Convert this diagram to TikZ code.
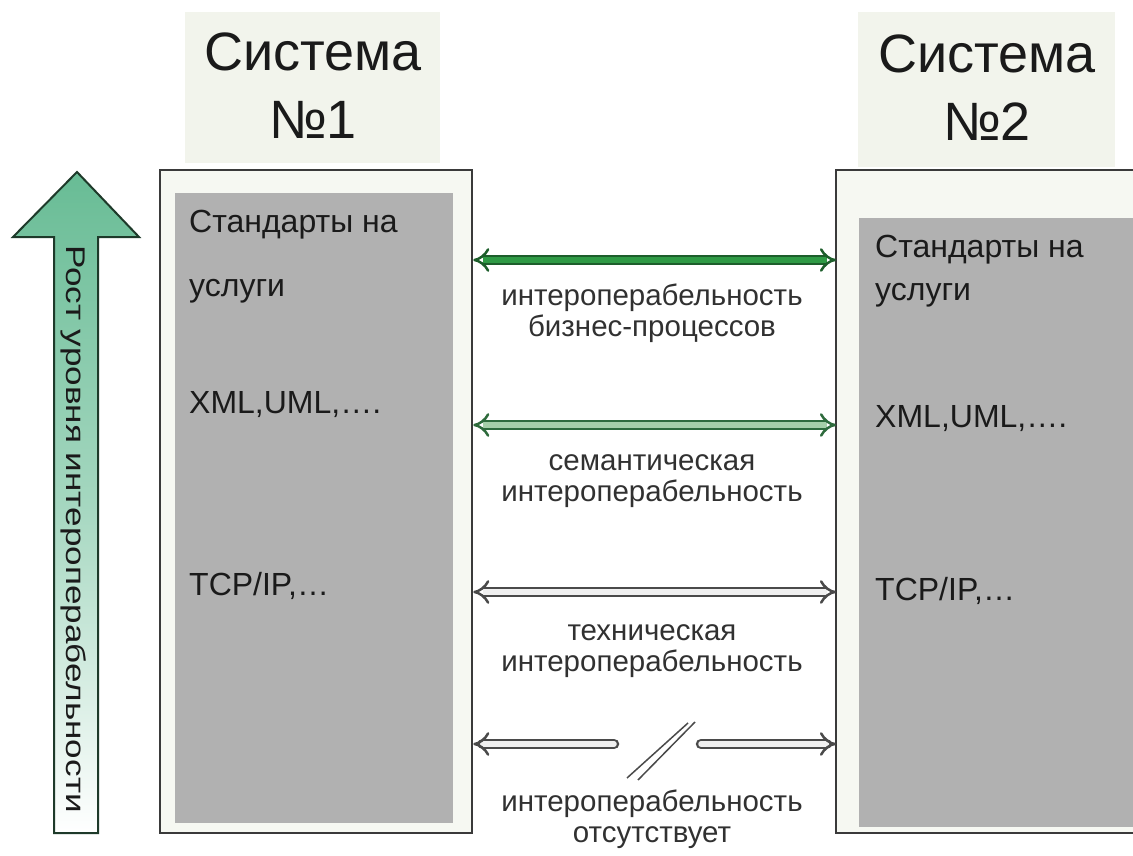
\documentclass[tikz,border=0pt]{standalone}
\usepackage{fontspec}
\setmainfont{Liberation Sans}
\usetikzlibrary{arrows.meta}
\definecolor{titlebg}{HTML}{F2F4EC}
\definecolor{framebg}{HTML}{F6F8F2}
\definecolor{frameline}{HTML}{3A3A3A}
\definecolor{innergray}{HTML}{B1B1B1}
\definecolor{bigarrow}{HTML}{68BC95}
\definecolor{bigarrowline}{HTML}{1E3A2A}
\definecolor{gAline}{HTML}{1D5E2B}
\definecolor{gAfill}{HTML}{2F9A45}
\definecolor{gBline}{HTML}{2E6B3C}
\definecolor{gBfill}{HTML}{A5CFA8}
\definecolor{grline}{HTML}{4A4A4A}
\definecolor{grfill}{HTML}{F0F0F0}
\definecolor{txt}{HTML}{1A1A1A}
\tikzset{
  titlebox/.style={fill=titlebg, draw=none, inner sep=0pt},
  frame/.style={fill=framebg, draw=frameline, line width=2.5pt, inner sep=0pt},
  inner/.style={fill=innergray, draw=none, inner sep=0pt},
  titletext/.style={font=\fontsize{54}{68}\selectfont, align=center, text=txt, inner sep=0pt},
  boxtext/.style={font=\fontsize{32}{40}\selectfont, anchor=base west, text=txt, inner sep=0pt},
  lbl/.style={font=\fontsize{29.5}{31}\selectfont, align=center, text=txt!90, inner sep=0pt},
  linkbase/.style={line width=2.5pt, double distance=5.5pt},
  linkA/.style={linkbase, draw=gAline, double=gAfill},
  linkB/.style={linkbase, draw=gBline, double=gBfill},
  linkC/.style={linkbase, draw=grline, double=grfill},
  slash/.style={draw=grline, line width=1.5pt},
  tip/.tip={Implies[scale=1.35]},
}
\begin{document}
\begin{tikzpicture}[x=1pt,y=-1pt]
\useasboundingbox (0,0) rectangle (1133,856);
\fill[white] (0,0) rectangle (1133,856);

% title boxes
\node[titlebox, minimum width=255, minimum height=151] (t1box) at (312.5,87.5) {};
\node[titlebox, minimum width=257, minimum height=155] (t2box) at (986.5,89.5) {};
\node[titletext] (t1) at (313,86) {Система\\№1};
\node[titletext] (t2) at (987,88) {Система\\№2};

% left system frame
\node[frame, minimum width=312, minimum height=663] (L) at (316,501.5) {};
\node[inner, minimum width=278, minimum height=630] (Lin) at (314,508) {};

% right system frame (open to the right edge)
\fill[framebg] (836,170) rectangle (1133,833);
\draw[draw=frameline, line width=2.5pt] (1133,170) -- (836,170) -- (836,833) -- (1133,833);
\node[inner, minimum width=274, minimum height=609, anchor=north west] (Rin) at (859,218) {};
\coordinate (R) at (836,501.5);

% texts in the left box
\node[boxtext] (l1) at (189,233) {Стандарты на};
\node[boxtext] (l2) at (189,296) {услуги};
\node[boxtext] (l3) at (189,413) {XML,UML,….};
\node[boxtext] (l4) at (189,595) {TCP/IP,…};

% texts in the right box
\node[boxtext] (r1) at (875,257) {Стандарты на};
\node[boxtext] (r2) at (875,300) {услуги};
\node[boxtext] (r3) at (875,427) {XML,UML,….};
\node[boxtext] (r4) at (875,600) {TCP/IP,…};

% big vertical arrow
\path[shade, top color=bigarrow, bottom color=white, middle color=bigarrow!60!white, draw=bigarrowline, line width=2pt, line join=miter]
  (54,833) -- (54,237) -- (13,237) -- (77,172) -- (139,237) -- (98,237) -- (98,833) -- cycle;
\node[rotate=-90, font=\fontsize{27}{30}\selectfont, text=txt, inner sep=0pt] (grow) at (74,529)
  {\scalebox{1.3}[1]{Рост уровня интероперабельности}};

% connector end points
\coordinate (a1l) at (L.east |- 0,260);
\coordinate (a1r) at (R |- 0,260);
\coordinate (a2l) at (L.east |- 0,425);
\coordinate (a2r) at (R |- 0,425);
\coordinate (a3l) at (L.east |- 0,592);
\coordinate (a3r) at (R |- 0,592);
\coordinate (a4l) at (L.east |- 0,744);
\coordinate (a4r) at (R |- 0,744);
\coordinate (g1) at (614,744);
\coordinate (g2) at (701,744);
\coordinate (s1a) at (627,778);
\coordinate (s1b) at (688,723);
\coordinate (s2a) at (638,780);
\coordinate (s2b) at (695,722);

\draw[linkA, tip-tip] (a1l) -- (a1r);
\draw[linkB, tip-tip] (a2l) -- (a2r);
\draw[linkC, tip-tip] (a3l) -- (a3r);
\draw[linkC, tip-, line cap=round] (a4l) -- (g1);
\draw[linkC, -tip, line cap=round] (g2) -- (a4r);
\draw[slash] (s1a) -- (s1b);
\draw[slash] (s2a) -- (s2b);

% labels
\node[lbl] (lab1) at (652,313.5) {интероперабельность\\бизнес-процессов};
\node[lbl] (lab2) at (652,481.5) {семантическая\\интероперабельность};
\node[lbl] (lab3) at (652,651) {техническая\\интероперабельность};
\node[lbl] (lab4) at (652,819.5) {интероперабельность\\отсутствует};
\end{tikzpicture}
\end{document}
